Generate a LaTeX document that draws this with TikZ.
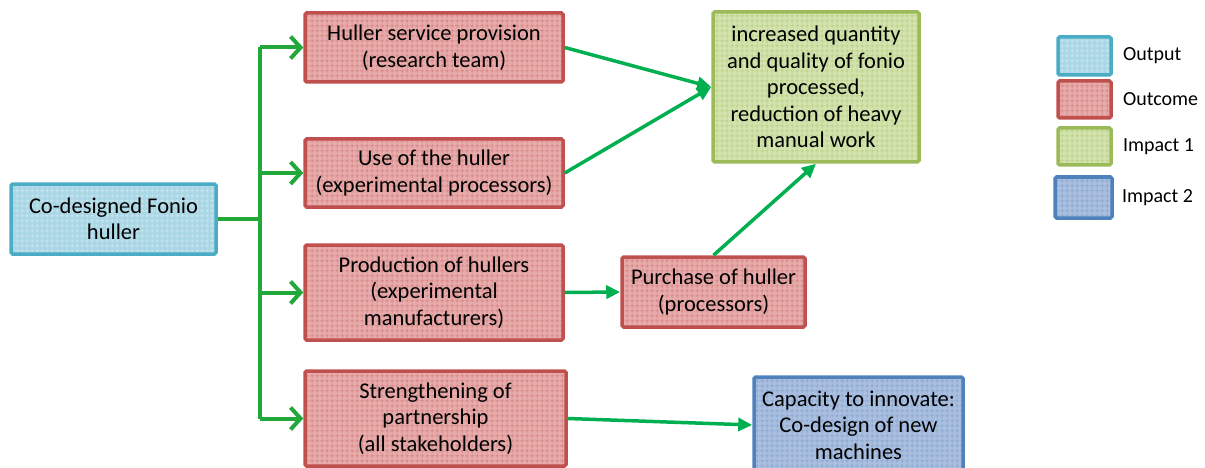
\documentclass[tikz,border=0pt]{standalone}
\usepackage{fontspec}
\setmainfont{Carlito}
\usetikzlibrary{arrows.meta,patterns.meta,positioning}

\definecolor{outputline}{HTML}{4BACC6}
\definecolor{outputfill}{HTML}{A9D7E5}
\definecolor{outcomeline}{HTML}{C0504D}
\definecolor{outcomefill}{HTML}{E6ABAA}
\definecolor{impactoneline}{HTML}{9BBB59}
\definecolor{impactonefill}{HTML}{D3E3AE}
\definecolor{impacttwoline}{HTML}{4F81BD}
\definecolor{impacttwofill}{HTML}{AABFDF}
\definecolor{busgreen}{HTML}{22A83A}
\definecolor{arrowgreen}{HTML}{00B050}

\tikzdeclarepattern{
  name=cellgrid,
  type=uncolored,
  bounding box={(0,0) and (5pt,5pt)},
  tile size={(5pt,5pt)},
  code={\draw[line width=0.6pt] (0,2.5pt) -- (5pt,2.5pt) (2.5pt,0) -- (2.5pt,5pt);}
}

\tikzset{every picture/.style={line width=0.75pt},
  gridbox/.style={rectangle, rounded corners=1.5pt, line width=3.5pt, align=center, inner sep=2pt, font=\fontsize{22.5}{26.5}\selectfont},
  outputbox/.style={gridbox, draw=outputline, preaction={fill=outputfill}, pattern=cellgrid, pattern color=white!55!outputfill},
  outcomebox/.style={gridbox, draw=outcomeline, preaction={fill=outcomefill}, pattern=cellgrid, pattern color=outcomeline!55!outcomefill},
  impactonebox/.style={gridbox, draw=impactoneline, preaction={fill=impactonefill}, pattern=cellgrid, pattern color=impactoneline!60!impactonefill},
  impacttwobox/.style={gridbox, draw=impacttwoline, preaction={fill=impacttwofill}, pattern=cellgrid, pattern color=impacttwoline!50!impacttwofill},
  keylabel/.style={anchor=west, inner sep=0pt, font=\fontsize{20}{24}\selectfont},
  busline/.style={draw=busgreen, line width=4.5pt},
  busarrow/.style={draw=busgreen, line width=4pt, -{Straight Barb[length=10pt,width=22pt,line width=4pt]}},
  fillarrow/.style={draw=arrowgreen, line width=3.5pt, -{Triangle[length=14pt,width=13pt]}}
}

\begin{document}
\begin{tikzpicture}[x=1pt,y=-1pt]
\useasboundingbox (0,0) rectangle (1205,468);

%Shape: Output box
\node[outputbox, minimum width=205pt, minimum height=70pt] (fonio) at (113.5,219) {Co-designed Fonio\\huller};
%Shape: Outcome boxes
\node[outcomebox, minimum width=258pt, minimum height=69pt] (service) at (434,47.5) {Huller service provision\\(research team)};
\node[outcomebox, minimum width=258pt, minimum height=68pt] (use) at (434,173) {Use of the huller\\(experimental processors)};
\node[outcomebox, minimum width=258pt, minimum height=95pt] (production) at (434,292.5) {Production of hullers\\(experimental\\manufacturers)};
\node[outcomebox, minimum width=261pt, minimum height=95pt] (partner) at (435.5,418.5) {Strengthening of\\partnership\\(all stakeholders)};
\node[outcomebox, minimum width=183pt, minimum height=70pt] (purchase) at (713.5,292) {Purchase of huller\\(processors)};
%Shape: Impact boxes
\node[impactonebox, minimum width=206pt, minimum height=150pt] (impact) at (816,87) {increased quantity\\and quality of fonio\\processed,\\reduction of heavy\\manual work};
\node[impacttwobox, minimum width=209pt, minimum height=96pt] (capacity) at (858.5,425) {Capacity to innovate:\\Co-design of new\\machines};

%Straight Lines: bus
\coordinate (bus) at (260,219);
\draw[busline] (fonio.east) -- (bus);
\draw[busline] (bus |- service.west) -- (bus |- partner.west);
\draw[busarrow] (bus |- service.west) -- (service.west);
\draw[busarrow] (bus |- use.west) -- (use.west);
\draw[busarrow] (bus |- production.west) -- (production.west);
\draw[busarrow] (bus |- partner.west) -- (partner.west);

%Straight Lines: to impacts
\draw[fillarrow] (service.east) -- (impact.west);
\draw[fillarrow] (use.east) -- (impact.west);
\draw[fillarrow] (production.east) -- (purchase.west);
\draw[fillarrow] (purchase.north) -- (impact.south);
\draw[fillarrow] (partner.east) -- (capacity.west);

%Legend
\node[outputbox, minimum width=53pt, minimum height=38pt] (keyoutput) at (1084.5,56) {};
\node[outcomebox, minimum width=53pt, minimum height=37pt] (keyoutcome) at (1084.5,99.5) {};
\node[impactonebox, minimum width=53pt, minimum height=37pt] (keyimpactone) at (1084.5,146.5) {};
\node[impacttwobox, minimum width=57pt, minimum height=41pt] (keyimpacttwo) at (1083.5,197.5) {};

% Text Node
\node[keylabel, right=10pt of keyoutput] (textoutput) {Output};
\node[keylabel, right=10pt of keyoutcome] (textoutcome) {Outcome};
\node[keylabel, right=10pt of keyimpactone] (textimpactone) {Impact 1};
\node[keylabel, right=8pt of keyimpacttwo] (textimpacttwo) {Impact 2};

\end{tikzpicture}
\end{document}
